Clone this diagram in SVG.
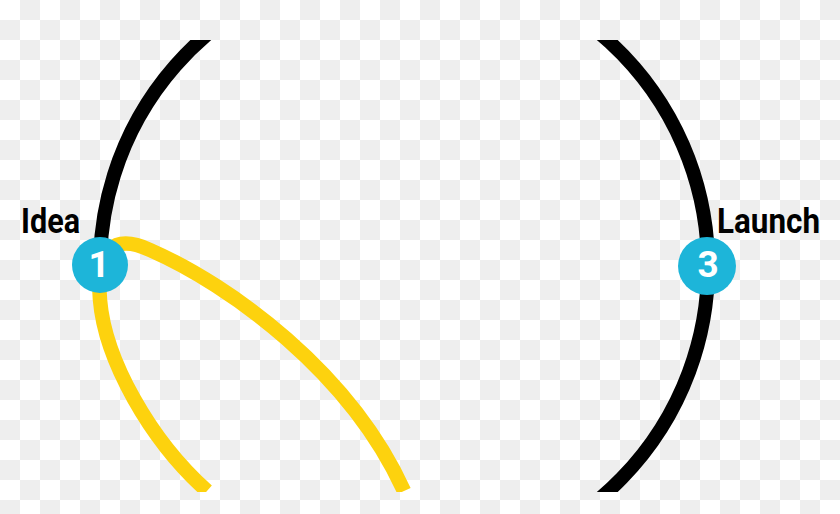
<svg xmlns="http://www.w3.org/2000/svg" width="840" height="514" viewBox="0 0 840 514">
  <defs>
    <pattern id="checker" x="0" y="0" width="40" height="40" patternUnits="userSpaceOnUse">
      <rect x="0" y="0" width="40" height="40" fill="#ffffff"/>
      <rect x="20" y="0" width="20" height="20" fill="#eeeeee"/>
      <rect x="0" y="20" width="20" height="20" fill="#eeeeee"/>
    </pattern>
    <clipPath id="band">
      <rect x="0" y="40" width="840" height="452"/>
    </clipPath>
  </defs>
  <style>
    .ring { fill: none; stroke: #000000; stroke-width: 14; }
    .loop { fill: none; stroke: #fdd20e; stroke-width: 14.5; }
    .node { fill: #1db5d9; }
    .num { font-family: Roboto, "Liberation Sans", sans-serif; font-weight: bold; font-size: 37px; fill: #ffffff; text-anchor: middle; }
    .label { font-family: Roboto, "Liberation Sans", sans-serif; font-weight: bold; font-size: 35px; fill: #000000; }
  </style>
  <rect x="0" y="0" width="840" height="514" fill="url(#checker)"/>
  <g id="connectors" clip-path="url(#band)">
    <path class="ring" d="M 101 290 A 304 304 0 1 1 404 570"/>
    <path class="loop" d="M 207 491 C 150 440, 105 360, 100 300 C 96 250, 113 233, 150 250 C 230 285, 350 372, 404 491"/>
  </g>
  <g id="node-1">
    <circle class="node" cx="100" cy="265" r="28"/>
    <text class="num" x="99" y="277">1</text>
    <text class="label" x="21" y="233" textLength="59" lengthAdjust="spacingAndGlyphs">Idea</text>
  </g>
  <g id="node-3">
    <circle class="node" cx="707" cy="266" r="29"/>
    <text class="num" x="708" y="277">3</text>
    <text class="label" x="717" y="233" textLength="103" lengthAdjust="spacingAndGlyphs">Launch</text>
  </g>
</svg>
